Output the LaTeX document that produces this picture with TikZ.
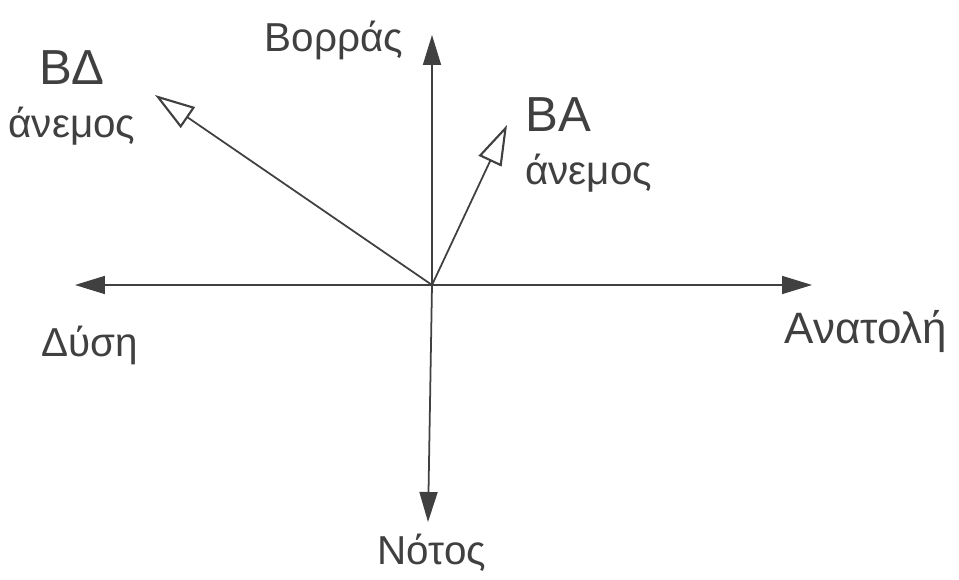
\documentclass[tikz,border=0pt]{standalone}
\usepackage{fontspec}
\setmainfont{Liberation Sans}
\usepackage{tikz}
\usetikzlibrary{arrows.meta, positioning}

\begin{document}
\begin{tikzpicture}[
    x=0.02cm, y=-0.02cm,
    axis/.style={-{Triangle[length=6mm, width=3.6mm]}, line width=1pt, draw=black!75},
    wind/.style={-{Triangle[open, length=8mm, width=5mm, line width=1.2pt]}, line width=1pt, draw=black!75},
    label/.style={text=black!75, font=\fontsize{23}{28}\selectfont, inner sep=0pt}
]
\useasboundingbox (0,0) rectangle (959,580);
% axes
\coordinate (origin) at (432,285);
\coordinate (north) at (432,35);
\coordinate (south) at (428,522);
\coordinate (west) at (75,285);
\coordinate (east) at (812,285);
\coordinate (nw) at (155,95);
\coordinate (ne) at (507,125);

\draw[axis] (origin) -- (north);
\draw[axis] (origin) -- (south);
\draw[axis] (origin) -- (west);
\draw[axis] (origin) -- (east);
\draw[wind] (origin) -- (nw);
\draw[wind] (origin) -- (ne);

% labels
\node[label] (northlbl) at (334,40) {Βορράς};
\node[label] (southlbl) at (432,553) {Νότος};
\node[label] (westlbl) at (90,345) {Δύση};
\node[label, font=\fontsize{25}{30}\selectfont] (eastlbl) at (866,332) {Ανατολή};
\node[label, align=center] (nwlbl) at (72,98) {{\fontsize{28}{30}\selectfont ΒΔ}\\[2pt]άνεμος};
\node[label, align=left, anchor=west] (nelbl) at (525,145) {{\fontsize{28}{30}\selectfont ΒΑ}\\[2pt]άνεμος};
\end{tikzpicture}
\end{document}
